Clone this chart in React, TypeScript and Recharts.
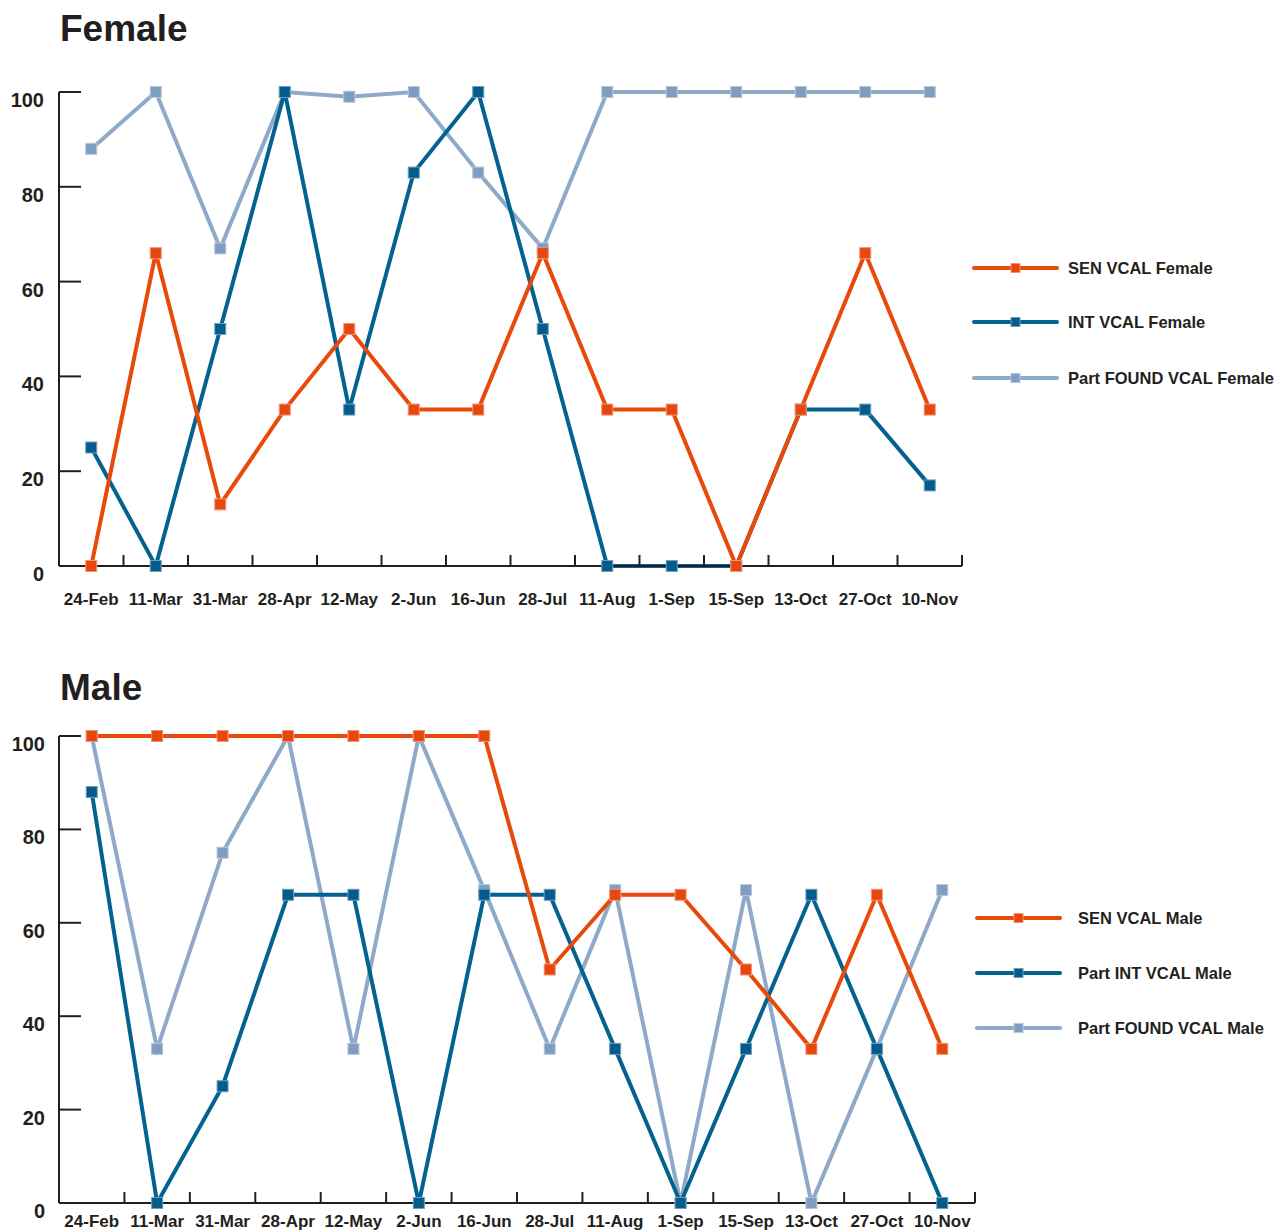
import React from "react";
import { LineChart, Line, XAxis, YAxis } from "recharts";

// dates shared by both panels
const dates = [
  "24-Feb", "11-Mar", "31-Mar", "28-Apr", "12-May", "2-Jun", "16-Jun",
  "28-Jul", "11-Aug", "1-Sep", "15-Sep", "13-Oct", "27-Oct", "10-Nov",
];
const yTicks = [0, 20, 40, 60, 80, 100];

// female series
const senFemale = [0, 66, 13, 33, 50, 33, 33, 66, 33, 33, 0, 33, 66, 33];
const intFemale = [25, 0, 50, 100, 33, 83, 100, 50, 0, 0, 0, 33, 33, 17];
const foundFemale = [88, 100, 67, 100, 99, 100, 83, 67, 100, 100, 100, 100, 100, 100];

// male series
const senMale = [100, 100, 100, 100, 100, 100, 100, 50, 66, 66, 50, 33, 66, 33];
const intMale = [88, 0, 25, 66, 66, 0, 66, 66, 33, 0, 33, 66, 33, 0];
const foundMale = [100, 33, 75, 100, 33, 100, 67, 33, 67, 0, 67, 0, 33, 67];

const FONT = "'Liberation Sans', Arial, Helvetica, sans-serif";
const INK = "#231F20";

interface SeriesStyle {
  key: "sen" | "int" | "found";
  color: string;
  dotFill: string;
  dotStroke: string;
}

const styles: Record<string, SeriesStyle> = {
  sen: { key: "sen", color: "#E84A0C", dotFill: "#E5470E", dotStroke: "#F39372" },
  int: { key: "int", color: "#04628F", dotFill: "#035C8B", dotStroke: "#6E9DBD" },
  found: { key: "found", color: "#8FA9C8", dotFill: "#7F9DC1", dotStroke: "#B4C6DC" },
};

const buildData = (sen: number[], int: number[], found: number[]) =>
  dates.map((d, i) => ({ i, date: d, sen: sen[i], int: int[i], found: found[i] }));

const femaleData = buildData(senFemale, intFemale, foundFemale);
const maleData = buildData(senMale, intMale, foundMale);

const labelTicks = dates.map((_, i) => i);
const boundaryTicks = dates.map((_, i) => i + 0.5);

const squareDot = (s: SeriesStyle) => (props: any) => {
  const { cx, cy, index } = props;
  if (cx == null || cy == null) return <g key={`${s.key}-${index}`} />;
  return (
    <rect
      key={`${s.key}-${index}`}
      x={cx - 5.5}
      y={cy - 5.5}
      width={11}
      height={11}
      fill={s.dotFill}
      stroke={s.dotStroke}
      strokeWidth={1}
    />
  );
};

const XLabel = (props: any) => {
  const { x, y, payload } = props;
  return (
    <text
      x={x}
      y={y}
      dy="0.71em"
      textAnchor="middle"
      fontFamily={FONT}
      fontSize={17}
      fontWeight={700}
      fill={INK}
    >
      {dates[payload.value]}
    </text>
  );
};

// tick marks only, no text
const NoLabel = () => <g />;

const YLabel = (props: any) => {
  const { x, y, payload } = props;
  return (
    <text
      x={x}
      y={y + 15}
      textAnchor="end"
      fontFamily={FONT}
      fontSize={20}
      fontWeight={700}
      fill={INK}
    >
      {payload.value}
    </text>
  );
};

interface PanelProps {
  data: any[];
  top: number;
  height: number;
  marginTop: number;
  plotRight: number;
  marginBottom: number;
  labelHeight: number;
  labelMargin: number;
  yLabelMargin: number;
}

const Panel: React.FC<PanelProps> = ({
  data, top, height, marginTop, plotRight, marginBottom, labelHeight, labelMargin, yLabelMargin,
}) => (
  <div style={{ position: "absolute", left: 0, top }}>
    <LineChart
      width={1285}
      height={height}
      data={data}
      margin={{ top: marginTop, right: 1285 - plotRight, left: 0, bottom: marginBottom }}
    >
      {/* labels under the category centres */}
      <XAxis
        xAxisId="lab"
        type="number"
        dataKey="i"
        domain={[-0.5, 13.5]}
        allowDataOverflow
        ticks={labelTicks}
        interval={0}
        axisLine={false}
        tickLine={false}
        tickSize={0}
        tickMargin={labelMargin}
        tick={<XLabel />}
        height={labelHeight}
      />
      {/* axis line with inward ticks between categories */}
      <XAxis
        xAxisId="t"
        type="number"
        dataKey="i"
        domain={[-0.5, 13.5]}
        allowDataOverflow
        ticks={boundaryTicks}
        interval={0}
        mirror
        tick={<NoLabel />}
        tickLine={{ stroke: INK, strokeWidth: 2 }}
        tickSize={11}
        height={11}
        stroke={INK}
        strokeWidth={2}
      />
      <YAxis
        type="number"
        domain={[0, 100]}
        ticks={yTicks}
        interval={0}
        width={59}
        tickSize={-22}
        tickMargin={yLabelMargin}
        tick={<YLabel />}
        stroke={INK}
        strokeWidth={2}
      />
      {(["found", "int", "sen"] as const).map((k) => (
        <Line
          key={k}
          xAxisId="lab"
          type="linear"
          dataKey={k}
          stroke={styles[k].color}
          strokeWidth={4}
          dot={squareDot(styles[k])}
          activeDot={false}
          isAnimationActive={false}
        />
      ))}
    </LineChart>
  </div>
);

interface LegendProps {
  names: string[];
  x1: number;
  x2: number;
  textX: number;
  ys: number[];
}

const LegendBlock: React.FC<LegendProps> = ({ names, x1, x2, textX, ys }) => (
  <g>
    {(["sen", "int", "found"] as const).map((k, idx) => {
      const s = styles[k];
      const y = ys[idx];
      const mx = (x1 + x2) / 2;
      return (
        <g key={k}>
          <line x1={x1} y1={y} x2={x2} y2={y} stroke={s.color} strokeWidth={4} strokeLinecap="round" />
          <rect x={mx - 4.5} y={y - 4.5} width={9} height={9} fill={s.dotFill} stroke={s.dotStroke} strokeWidth={1} />
          <text x={textX} y={y + 6} fontFamily={FONT} fontSize={16.5} fontWeight={700} fill={INK}>
            {names[idx]}
          </text>
        </g>
      );
    })}
  </g>
);

export default function App() {
  return (
    <div style={{ position: "absolute", left: 0, top: 0, width: 1285, height: 1231, background: "#fff", overflow: "hidden" }}>
      <Panel
        data={femaleData}
        top={0}
        height={620}
        marginTop={92}
        plotRight={962}
        marginBottom={24}
        labelHeight={30}
        labelMargin={27}
        yLabelMargin={37}
      />
      <Panel
        data={maleData}
        top={640}
        height={591}
        marginTop={96}
        plotRight={975}
        marginBottom={0}
        labelHeight={28}
        labelMargin={12}
        yLabelMargin={36}
      />
      <svg width={1285} height={1231} style={{ position: "absolute", left: 0, top: 0, pointerEvents: "none" }}>
        <text x={60} y={41} fontFamily={FONT} fontSize={37} fontWeight={700} fill={INK}>Female</text>
        <text x={60} y={700} fontFamily={FONT} fontSize={37} fontWeight={700} fill={INK}>Male</text>
        <LegendBlock
          names={["SEN VCAL Female", "INT VCAL Female", "Part FOUND VCAL Female"]}
          x1={974}
          x2={1057}
          textX={1068}
          ys={[268, 322, 378]}
        />
        <LegendBlock
          names={["SEN VCAL Male", "Part INT VCAL Male", "Part FOUND VCAL Male"]}
          x1={977}
          x2={1060}
          textX={1078}
          ys={[918, 973, 1028]}
        />
      </svg>
    </div>
  );
}
